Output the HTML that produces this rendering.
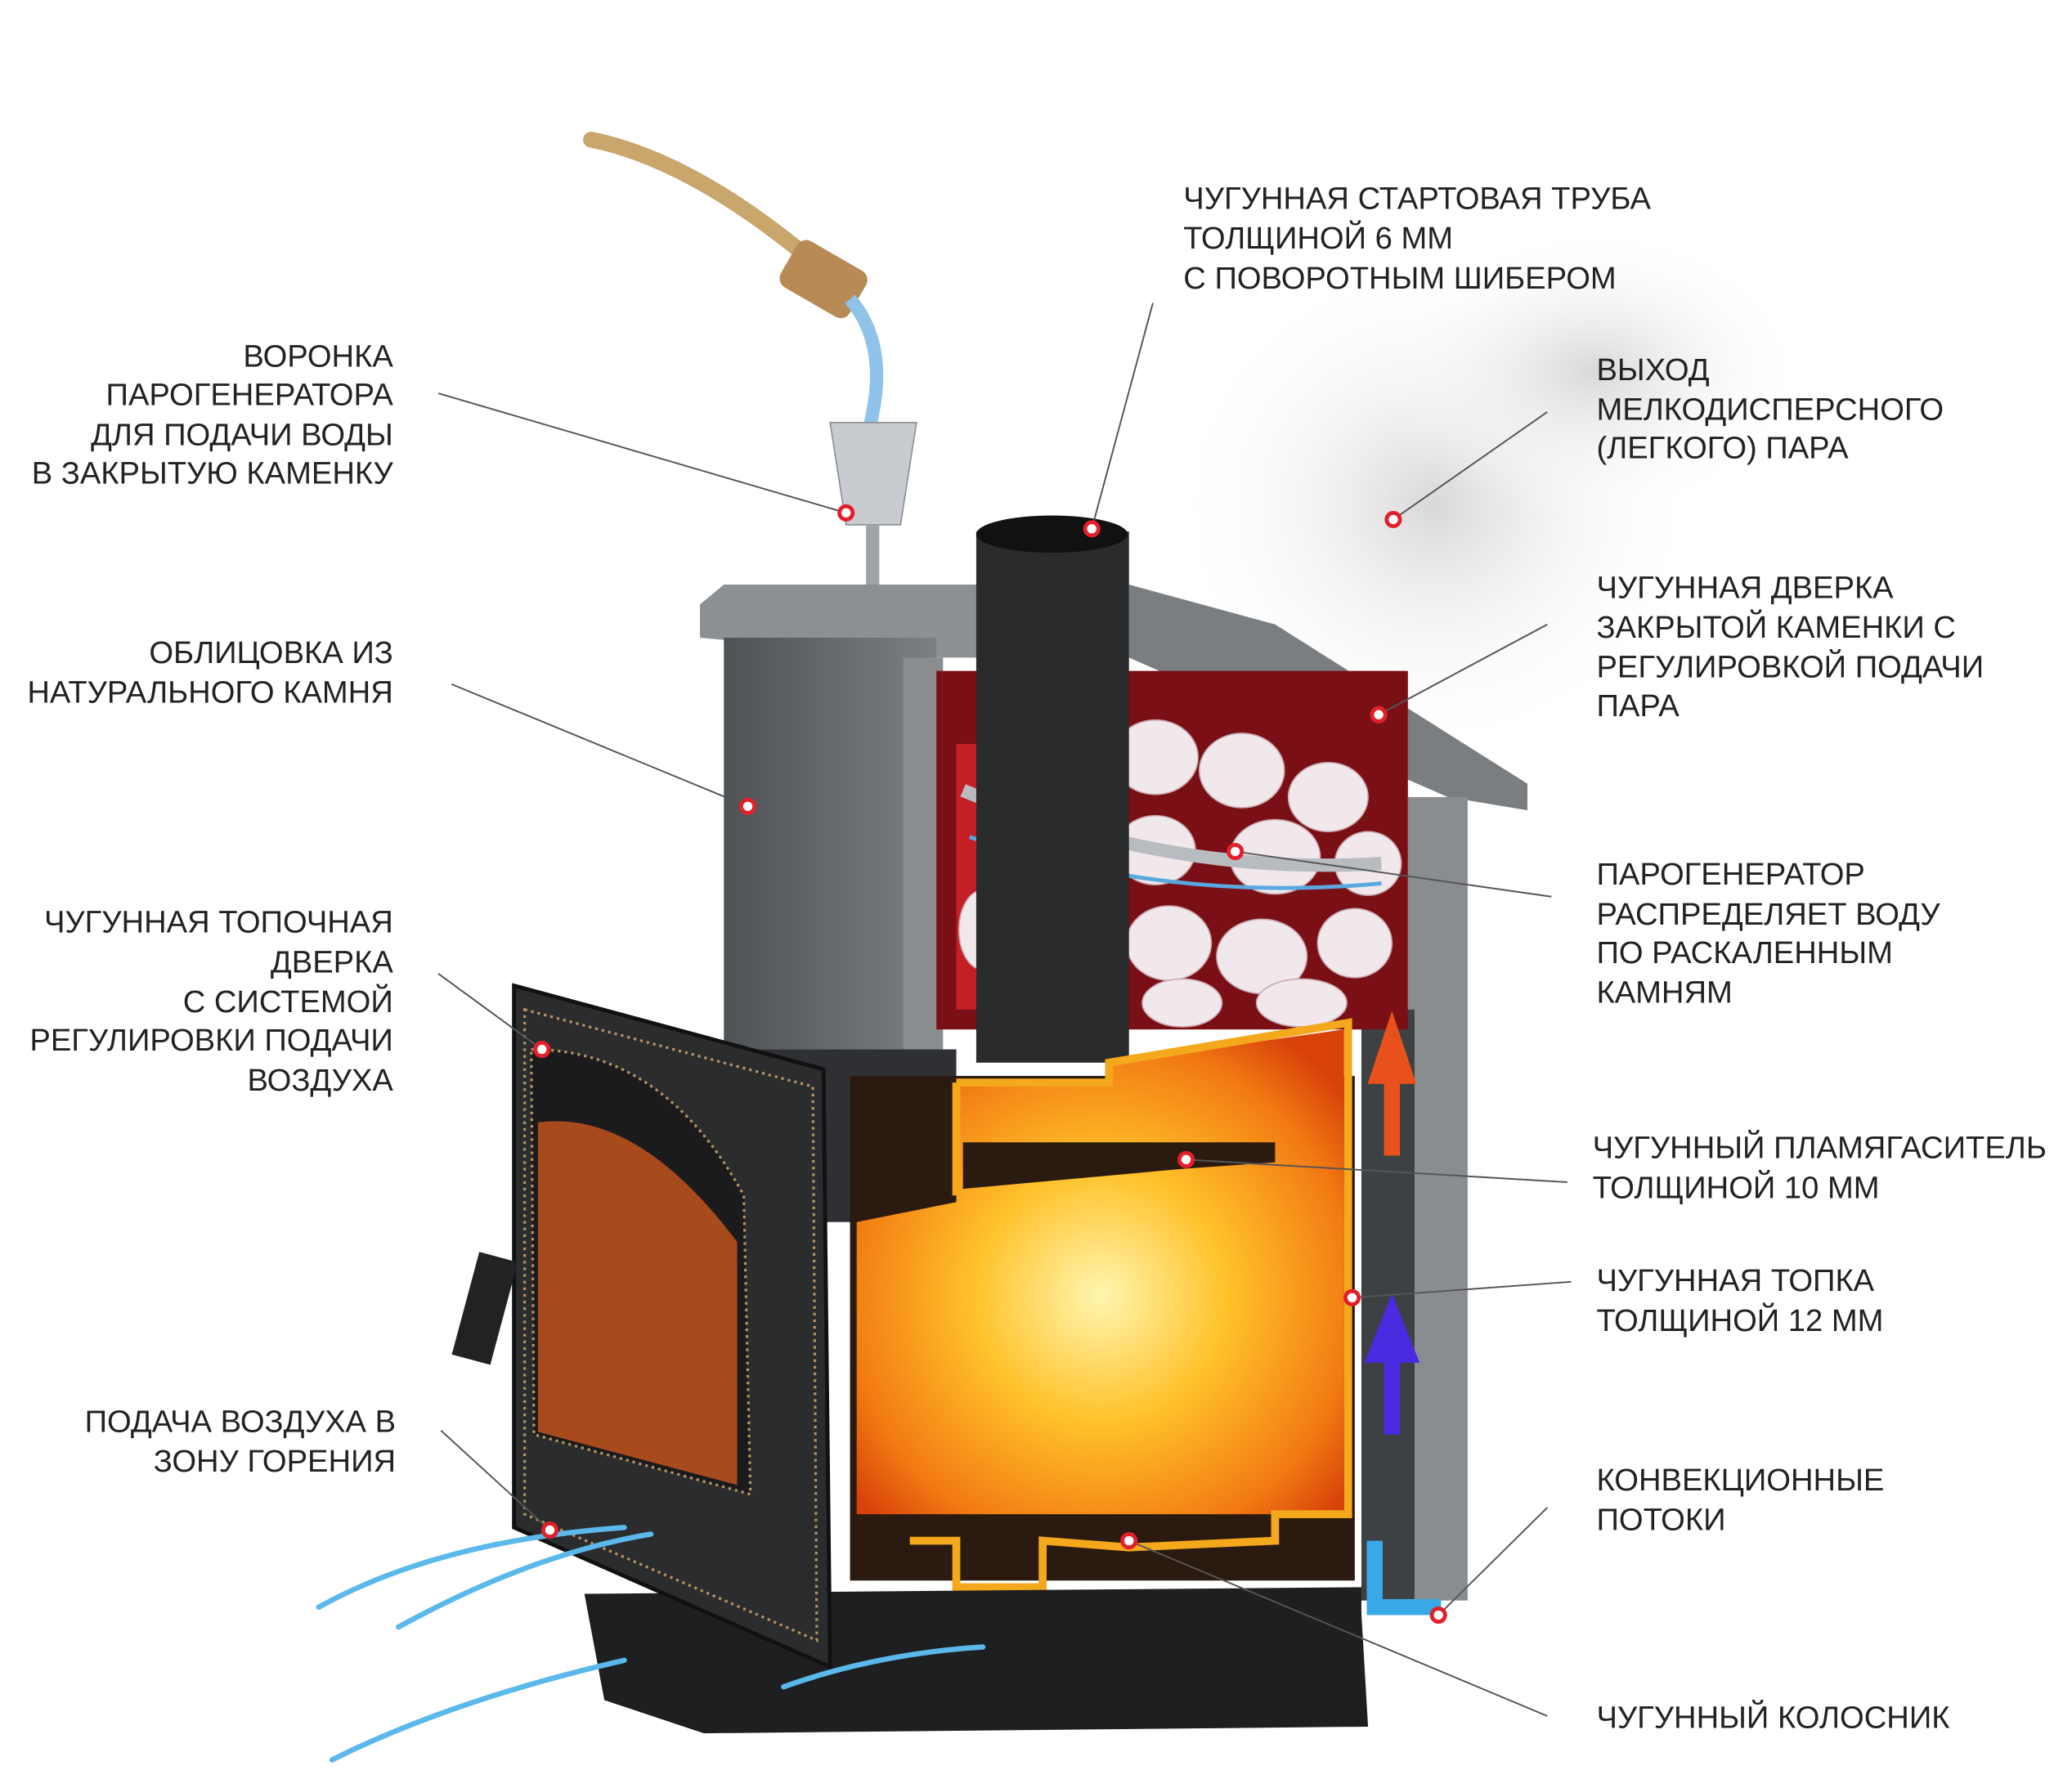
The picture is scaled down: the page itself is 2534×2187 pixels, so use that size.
<!DOCTYPE html>
<html><head><meta charset="utf-8"><style>
html,body{margin:0;padding:0;background:#fff;}
svg{display:block}
text{font-family:"Liberation Sans",sans-serif;font-size:23.5px;fill:#222;}
</style></head><body>
<svg width="2534" height="2187" viewBox="0 0 1560 1346" xmlns="http://www.w3.org/2000/svg">
<defs>
<radialGradient id="fire" cx="50%" cy="55%" r="65%"><stop offset="0" stop-color="#fff6b0"/><stop offset="0.4" stop-color="#ffc22a"/><stop offset="0.8" stop-color="#f27a12"/><stop offset="1" stop-color="#d8420a"/></radialGradient>
<linearGradient id="stone" x1="0" x2="1"><stop offset="0" stop-color="#4f5255"/><stop offset="1" stop-color="#7d8083"/></linearGradient>
<radialGradient id="steam" cx="50%" cy="50%" r="50%"><stop offset="0" stop-color="#d8d8d8"/><stop offset="1" stop-color="#fff" stop-opacity="0"/></radialGradient>
</defs>
<rect width="1560" height="1346" fill="#fff"/>
<ellipse cx="1080" cy="380" rx="200" ry="190" fill="url(#steam)"/>
<ellipse cx="1200" cy="280" rx="160" ry="110" fill="url(#steam)"/>
<path d="M445 105 Q520 120 610 195" stroke="#c9a66b" stroke-width="12" fill="none" stroke-linecap="round"/>
<rect x="590" y="190" width="60" height="40" rx="8" fill="#b88a55" transform="rotate(30 620 210)"/>
<path d="M640 225 Q670 260 655 320" stroke="#8fc3ea" stroke-width="10" fill="none"/>
<path d="M625 318 L690 318 L678 395 L637 395 Z" fill="#c8ccd0" stroke="#8a8e92"/>
<rect x="652" y="395" width="10" height="55" fill="#a0a4a8"/>
<path d="M527 455 L545 440 L850 440 L850 495 L690 495 L527 480 Z" fill="#8d9093"/>
<path d="M850 440 L960 470 L1150 590 L1150 610 L1090 600 L850 495 Z" fill="#7b7e81"/>
<rect x="545" y="480" width="160" height="310" fill="url(#stone)"/>
<rect x="680" y="495" width="30" height="315" fill="#8a8d90"/>
<rect x="1060" y="600" width="45" height="605" fill="#8a8d90"/>
<rect x="1025" y="760" width="40" height="445" fill="#3e4144"/>
<rect x="705" y="505" width="355" height="270" fill="#7a1015"/>
<rect x="720" y="560" width="120" height="200" fill="#d8232a" opacity="0.8"/>
<g fill="#f1e8ec" stroke="#caa9b1">
<ellipse cx="870" cy="570" rx="32" ry="28"/><ellipse cx="935" cy="580" rx="32" ry="28"/><ellipse cx="1000" cy="600" rx="30" ry="26"/>
<ellipse cx="870" cy="640" rx="30" ry="26"/><ellipse cx="960" cy="645" rx="34" ry="28"/><ellipse cx="1030" cy="650" rx="25" ry="24"/>
<ellipse cx="880" cy="710" rx="32" ry="28"/><ellipse cx="950" cy="720" rx="34" ry="28"/><ellipse cx="1020" cy="710" rx="28" ry="26"/>
<ellipse cx="890" cy="755" rx="30" ry="18"/><ellipse cx="980" cy="755" rx="34" ry="18"/><ellipse cx="740" cy="700" rx="18" ry="30"/>
</g>
<path d="M725 595 Q880 660 1040 650" stroke="#b8bcc0" stroke-width="10" fill="none"/>
<path d="M730 630 Q880 680 1040 665" stroke="#5aa8e0" stroke-width="3" fill="none"/>
<rect x="735" y="400" width="115" height="400" fill="#2a2b2d"/>
<ellipse cx="792" cy="402" rx="57" ry="14" fill="#111"/>
<rect x="545" y="790" width="175" height="130" fill="#2e3033"/>
<rect x="640" y="810" width="380" height="380" fill="#2a1a10"/>
<path d="M645 920 L720 905 L720 815 L835 815 L835 800 L1012 775 L1012 1140 L645 1140 Z" fill="url(#fire)"/>
<path d="M725 860 L960 860 L960 875 L890 880 L725 895 Z" fill="#2a1a10"/>
<path d="M720 815 L835 815 L835 800 L1015 770 L1015 1140 L960 1140 L960 1160 L850 1165 L785 1160 L785 1195 L720 1195 L720 1160 L685 1160 M720 815 L720 900" stroke="#f4a81c" stroke-width="6" fill="none"/>
<path d="M1048 870 L1048 810 L1038 810 L1048 780 L1058 810 L1048 810" stroke="#e8501c" stroke-width="12" fill="#e8501c"/>
<path d="M1048 1080 L1048 1020 L1036 1020 L1048 990 L1060 1020 L1048 1020" stroke="#4a2ae0" stroke-width="12" fill="#4a2ae0"/>
<path d="M1035 1160 L1035 1210 L1085 1210" stroke="#39a9e8" stroke-width="12" fill="none"/>
<path d="M440 1200 L1025 1195 L1025 1215 L1030 1300 L530 1305 L455 1280 Z" fill="#1e1f21"/>
<path d="M387 742 L620 805 L625 1255 L387 1150 Z" fill="#2b2c2e" stroke="#111" stroke-width="3"/>
<path d="M395 760 L612 818 L615 1235 L395 1140 Z" fill="none" stroke="#b59360" stroke-width="2" stroke-dasharray="2 3"/>
<path d="M400 790 Q500 790 560 900 L565 1125 L402 1080 Z" fill="#1b1b1d" stroke="#b59360" stroke-width="2" stroke-dasharray="2 3"/>
<path d="M405 845 Q480 835 555 935 L555 1118 L405 1078 Z" fill="#c0521c" opacity="0.85"/>
<rect x="350" y="945" width="30" height="80" fill="#222" transform="rotate(15 365 985)"/>
<g stroke="#5ab8ea" stroke-width="4" fill="none" stroke-linecap="round">
<path d="M240 1210 Q330 1160 470 1150"/><path d="M300 1225 Q400 1170 490 1155"/>
<path d="M250 1325 Q340 1280 470 1250"/><path d="M590 1270 Q660 1245 740 1240"/>
</g>
<g stroke="#555" stroke-width="1.2">
<line x1="330" y1="296" x2="637" y2="386"/>
<line x1="868" y1="228" x2="822" y2="398"/>
<line x1="1165" y1="310" x2="1049" y2="391"/>
<line x1="1165" y1="470" x2="1038" y2="538"/>
<line x1="340" y1="515" x2="563" y2="607"/>
<line x1="1168" y1="675" x2="930" y2="641"/>
<line x1="330" y1="733" x2="408" y2="790"/>
<line x1="1180" y1="890" x2="893" y2="873"/>
<line x1="1183" y1="965" x2="1018" y2="977"/>
<line x1="332" y1="1077" x2="414" y2="1152"/>
<line x1="1165" y1="1135" x2="1083" y2="1216"/>
<line x1="1165" y1="1292" x2="850" y2="1160"/>
</g>
<g fill="#fff" stroke="#e3202a" stroke-width="3">
<circle cx="637" cy="386" r="5"/><circle cx="822" cy="398" r="5"/><circle cx="1049" cy="391" r="5"/>
<circle cx="1038" cy="538" r="5"/><circle cx="563" cy="607" r="5"/><circle cx="930" cy="641" r="5"/>
<circle cx="408" cy="790" r="5"/><circle cx="893" cy="873" r="5"/><circle cx="1018" cy="977" r="5"/>
<circle cx="414" cy="1152" r="5"/><circle cx="1083" cy="1216" r="5"/><circle cx="850" cy="1160" r="5"/>
</g>
<g text-anchor="end">
<text x="296" y="276">ВОРОНКА</text><text x="296" y="305">ПАРОГЕНЕРАТОРА</text><text x="296" y="335">ДЛЯ ПОДАЧИ ВОДЫ</text><text x="296" y="364">В ЗАКРЫТУЮ КАМЕНКУ</text>
<text x="296" y="499">ОБЛИЦОВКА ИЗ</text><text x="296" y="529">НАТУРАЛЬНОГО КАМНЯ</text>
<text x="296" y="702">ЧУГУННАЯ ТОПОЧНАЯ</text><text x="296" y="732">ДВЕРКА</text><text x="296" y="762">С СИСТЕМОЙ</text><text x="296" y="791">РЕГУЛИРОВКИ ПОДАЧИ</text><text x="296" y="821">ВОЗДУХА</text>
<text x="298" y="1078">ПОДАЧА ВОЗДУХА В</text><text x="298" y="1108">ЗОНУ ГОРЕНИЯ</text>
</g>
<text x="891" y="157">ЧУГУННАЯ СТАРТОВАЯ ТРУБА</text><text x="891" y="187">ТОЛЩИНОЙ 6 ММ</text><text x="891" y="217">С ПОВОРОТНЫМ ШИБЕРОМ</text>
<text x="1202" y="286">ВЫХОД</text><text x="1202" y="316">МЕЛКОДИСПЕРСНОГО</text><text x="1202" y="345">(ЛЕГКОГО) ПАРА</text>
<text x="1202" y="450">ЧУГУННАЯ ДВЕРКА</text><text x="1202" y="480">ЗАКРЫТОЙ КАМЕНКИ С</text><text x="1202" y="510">РЕГУЛИРОВКОЙ ПОДАЧИ</text><text x="1202" y="539">ПАРА</text>
<text x="1202" y="666">ПАРОГЕНЕРАТОР</text><text x="1202" y="696">РАСПРЕДЕЛЯЕТ ВОДУ</text><text x="1202" y="725">ПО РАСКАЛЕННЫМ</text><text x="1202" y="755">КАМНЯМ</text>
<text x="1199" y="872">ЧУГУННЫЙ ПЛАМЯГАСИТЕЛЬ</text><text x="1199" y="902">ТОЛЩИНОЙ 10 ММ</text>
<text x="1202" y="972">ЧУГУННАЯ ТОПКА</text><text x="1202" y="1002">ТОЛЩИНОЙ 12 ММ</text>
<text x="1202" y="1122">КОНВЕКЦИОННЫЕ</text><text x="1202" y="1152">ПОТОКИ</text>
<text x="1202" y="1301">ЧУГУННЫЙ КОЛОСНИК</text>
</svg>
</body></html>
